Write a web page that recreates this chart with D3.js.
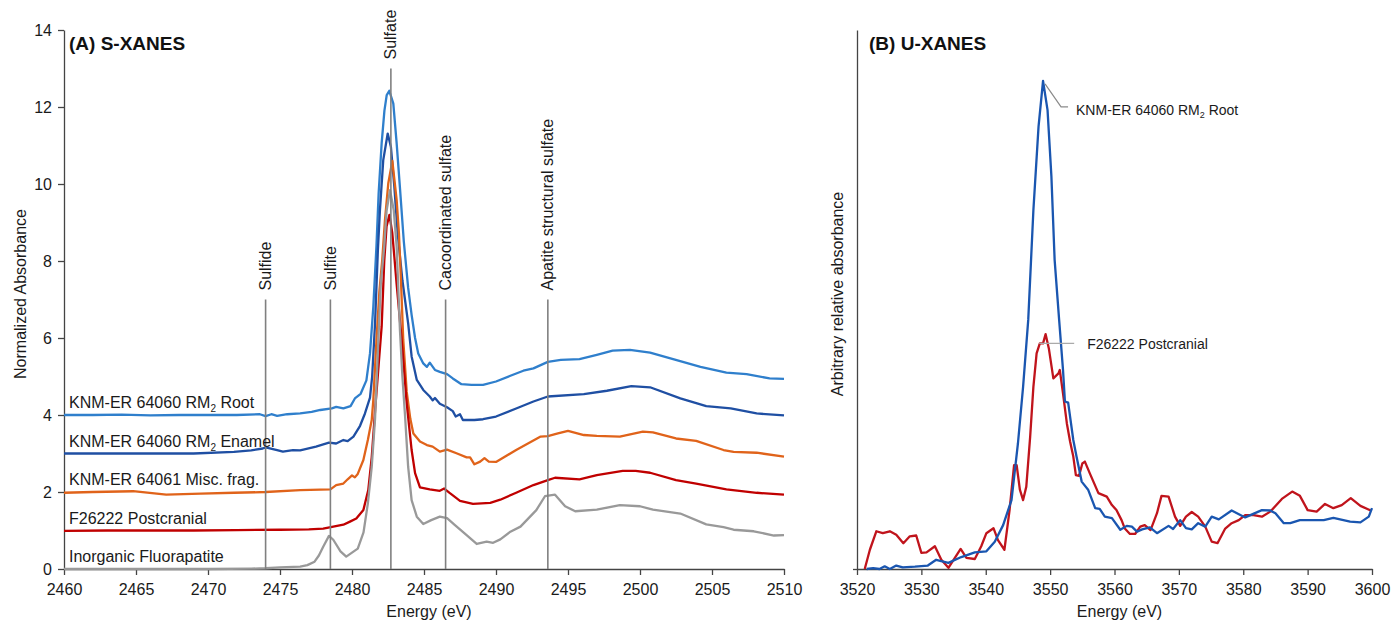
<!DOCTYPE html>
<html><head><meta charset="utf-8">
<script src="https://cdn.jsdelivr.net/npm/d3@7"></script>
<style>
html,body{margin:0;padding:0;background:#fff;}
svg{display:block;font-family:"Liberation Sans",Arial,sans-serif;}
</style></head>
<body><svg id="chart" width="1392" height="623"></svg>
<script>
// ---------- DATA: S-XANES (panel A) ----------
const sTicksX = [2460,2465,2470,2475,2480,2485,2490,2495,2500,2505,2510];
const sTicksY = [0,2,4,6,8,10,12,14];
const sSeriesNames = ["KNM-ER 64060 RM2 Root","KNM-ER 64060 RM2 Enamel","KNM-ER 64061 Misc. frag.","F26222 Postcranial","Inorganic Fluorapatite"];
const sSeriesBase = [4,3,2,1,0];
const rootS = [[2460,4.0],[2462,4.0],[2464,4.01],[2466,3.99],[2468,4.0],[2470,4.0],[2472,4.0],[2473.6,4.02],[2474.0,3.97],[2474.4,4.02],[2474.8,3.98],[2475.5,4.02],[2476.4,4.04],[2477.2,4.08],[2477.8,4.13],[2478.6,4.17],[2478.9,4.21],[2479.4,4.17],[2479.9,4.23],[2480.2,4.43],[2480.6,4.55],[2481.0,4.9],[2481.25,5.6],[2481.48,6.81],[2481.7,8.4],[2481.85,9.76],[2482.06,11.06],[2482.25,11.9],[2482.41,12.31],[2482.59,12.42],[2482.87,12.09],[2483.1,11.06],[2483.33,9.9],[2483.6,8.5],[2483.9,7.3],[2484.14,6.6],[2484.38,6.0],[2484.6,5.6],[2484.95,5.34],[2485.2,5.25],[2485.4,5.36],[2485.76,5.17],[2486.1,5.12],[2486.6,5.06],[2487.0,4.95],[2487.6,4.8],[2488.3,4.78],[2489.1,4.78],[2490.0,4.87],[2491.0,5.02],[2491.9,5.15],[2492.6,5.21],[2493.6,5.38],[2494.5,5.43],[2495.8,5.45],[2497.0,5.56],[2498.1,5.67],[2499.3,5.69],[2500.7,5.62],[2502.3,5.45],[2504.2,5.25],[2506.0,5.1],[2507.4,5.06],[2509.0,4.95],[2510,4.94]];
const enamelS = [[2460,3.0],[2463,3.0],[2466,3.0],[2469,3.0],[2471.8,3.04],[2473.0,3.08],[2473.8,3.13],[2474.0,3.16],[2474.8,3.09],[2475.2,3.05],[2475.9,3.09],[2476.4,3.08],[2477.5,3.18],[2478.4,3.28],[2478.9,3.26],[2479.4,3.35],[2479.7,3.32],[2480.1,3.44],[2480.56,3.72],[2480.9,4.04],[2481.25,4.45],[2481.4,5.0],[2481.6,6.38],[2481.8,8.3],[2481.94,9.32],[2482.17,10.62],[2482.48,11.31],[2482.7,10.97],[2482.94,9.93],[2483.17,8.72],[2483.5,7.5],[2483.9,6.38],[2484.14,5.52],[2484.5,4.91],[2484.95,4.65],[2485.4,4.48],[2485.6,4.38],[2485.76,4.44],[2486.1,4.29],[2486.6,4.2],[2487.0,4.1],[2487.2,3.96],[2487.5,4.02],[2487.7,3.87],[2488.5,3.87],[2489.1,3.89],[2490.0,3.96],[2491.4,4.17],[2492.6,4.35],[2493.6,4.48],[2496.1,4.54],[2497.7,4.63],[2499.4,4.75],[2500.7,4.72],[2502.8,4.43],[2504.6,4.23],[2506.3,4.17],[2508.1,4.04],[2510,3.99]];
const miscS = [[2460,1.98],[2462,2.0],[2464.8,2.02],[2467.1,1.93],[2469.5,1.96],[2471.8,1.98],[2474,2.0],[2476.4,2.05],[2478.5,2.07],[2478.9,2.18],[2479.4,2.22],[2479.7,2.33],[2480.0,2.43],[2480.2,2.38],[2480.4,2.47],[2480.79,2.83],[2481.1,3.35],[2481.37,3.87],[2481.48,4.39],[2481.7,5.95],[2481.9,7.2],[2482.1,8.03],[2482.29,9.07],[2482.52,10.02],[2482.8,10.6],[2483.1,9.59],[2483.26,8.72],[2483.4,7.5],[2483.56,5.95],[2483.8,4.6],[2484.05,3.9],[2484.26,3.52],[2484.72,3.31],[2485.2,3.22],[2485.6,3.18],[2486.1,3.05],[2486.6,3.1],[2487.3,3.0],[2487.96,2.9],[2488.2,2.9],[2488.5,2.72],[2488.9,2.79],[2489.2,2.88],[2489.5,2.79],[2490.0,2.78],[2491.4,3.09],[2493.1,3.44],[2493.6,3.45],[2494.3,3.52],[2495.0,3.59],[2496.1,3.48],[2497.0,3.46],[2498.6,3.44],[2500.2,3.57],[2500.9,3.55],[2502.5,3.39],[2503.9,3.33],[2505.8,3.09],[2506.5,3.04],[2508.1,3.02],[2510,2.92]];
const postS = [[2460,0.99],[2463,1.0],[2466,1.0],[2469,1.0],[2472,1.01],[2475,1.02],[2477,1.03],[2478.0,1.05],[2478.7,1.1],[2479.4,1.15],[2479.86,1.23],[2480.3,1.31],[2480.79,1.53],[2481.13,2.05],[2481.37,2.9],[2481.6,4.1],[2481.85,5.3],[2482.06,6.3],[2482.24,8.0],[2482.4,8.9],[2482.6,9.2],[2482.8,8.72],[2482.94,8.11],[2483.1,7.4],[2483.45,5.95],[2483.8,4.3],[2484.14,3.09],[2484.38,2.49],[2484.72,2.12],[2485.4,2.07],[2486.1,2.03],[2486.4,2.09],[2486.8,1.97],[2487.5,1.77],[2488.4,1.69],[2489.6,1.72],[2490.3,1.8],[2491.4,1.98],[2492.6,2.18],[2493.6,2.31],[2494.1,2.37],[2495.8,2.33],[2497.0,2.44],[2498.8,2.55],[2499.7,2.55],[2500.7,2.5],[2502.5,2.31],[2503.9,2.22],[2506.0,2.07],[2508.1,1.98],[2510,1.93]];
const fluorS = [[2460,0.0],[2465,0.0],[2470,0.0],[2473,0.01],[2474,0.02],[2475,0.04],[2476.4,0.06],[2476.9,0.1],[2477.4,0.19],[2477.7,0.35],[2478.0,0.58],[2478.4,0.86],[2478.7,0.76],[2479.2,0.46],[2479.6,0.32],[2480.1,0.45],[2480.4,0.53],[2480.8,0.95],[2481.1,1.7],[2481.37,2.65],[2481.6,3.9],[2481.83,5.95],[2482.0,7.4],[2482.24,8.38],[2482.4,9.3],[2482.64,9.84],[2482.9,9.32],[2483.1,8.38],[2483.33,6.2],[2483.5,5.0],[2483.68,4.0],[2483.9,2.65],[2484.14,1.79],[2484.5,1.36],[2484.95,1.17],[2485.5,1.27],[2486.1,1.36],[2486.6,1.32],[2487.15,1.14],[2487.96,0.88],[2488.66,0.65],[2489.35,0.71],[2489.8,0.68],[2490.3,0.77],[2491.0,0.97],[2491.7,1.1],[2492.8,1.53],[2493.4,1.89],[2494.1,1.93],[2494.8,1.63],[2495.5,1.5],[2497.0,1.54],[2498.6,1.66],[2500.0,1.63],[2500.9,1.54],[2502.8,1.44],[2504.6,1.16],[2505.8,1.09],[2506.5,1.02],[2507.9,0.98],[2509.3,0.87],[2510,0.88]];
const refEnergies = [2474, 2478.5, 2482.7, 2486.5, 2493.6];
const refTops = [7, 7, 13, 7, 7];
const refLabels = ["Sulfide","Sulfite","Sulfate","Cacoordinated sulfate","Apatite structural sulfate"];

// ---------- DATA: U-XANES (panel B) ----------
const uTicksX = [3520,3530,3540,3550,3560,3570,3580,3590,3600];
const uRoot = [[3521.5,0],[3522.5,0.02],[3523.5,0],[3524.3,0.07],[3525.1,0],[3526.1,0.09],[3527.1,0.04],[3529,0.06],[3531.0,0.09],[3532.3,0.24],[3534.2,0.16],[3536.2,0.31],[3538.3,0.43],[3540.1,0.46],[3541.4,0.71],[3542.7,1.14],[3544.0,1.79],[3545.0,3.26],[3545.8,4.73],[3546.6,6.47],[3547.4,9.32],[3548.2,11.49],[3548.9,12.68],[3549.6,11.92],[3550.2,10.19],[3550.7,8.03],[3551.4,6.47],[3552.0,5.17],[3552.3,4.35],[3552.8,4.32],[3553.6,3.35],[3554.1,2.92],[3554.9,2.27],[3555.9,2.06],[3557.0,1.58],[3557.7,1.56],[3558.5,1.36],[3559.6,1.32],[3560.9,1.02],[3561.9,1.12],[3562.7,1.10],[3563.5,0.97],[3564.3,1.03],[3565.5,1.08],[3566.6,0.93],[3568.4,1.12],[3569.1,1.04],[3570.2,1.27],[3571.1,1.06],[3572.0,1.03],[3573.0,1.19],[3574.1,1.1],[3575.1,1.36],[3576.2,1.29],[3578.2,1.52],[3580.3,1.34],[3582.9,1.53],[3584.2,1.52],[3585.0,1.45],[3586.3,1.19],[3587.3,1.19],[3588.8,1.27],[3592.5,1.27],[3594.0,1.33],[3596.6,1.23],[3598.2,1.21],[3599.5,1.36],[3600,1.58]];
const uPost = [[3521.2,0],[3522.0,0.5],[3523.0,0.98],[3524.0,0.93],[3525.1,0.98],[3526.1,0.89],[3527.2,0.67],[3528.2,0.85],[3529.2,0.87],[3530.0,0.42],[3530.8,0.43],[3532.1,0.59],[3533.1,0.24],[3534.2,0.03],[3535.2,0.29],[3536.1,0.52],[3537.0,0.29],[3538.3,0.26],[3539.3,0.59],[3540.1,0.93],[3541.2,1.06],[3541.9,0.75],[3542.9,0.5],[3543.7,1.53],[3544.4,2.70],[3544.8,2.70],[3545.3,2.06],[3545.8,1.79],[3546.3,2.14],[3546.9,3.44],[3547.4,4.73],[3547.9,5.6],[3548.4,5.86],[3548.9,5.86],[3549.3,6.1],[3549.8,5.73],[3550.5,4.95],[3551.3,5.08],[3551.5,5.17],[3552.0,4.56],[3552.6,3.78],[3553.1,3.31],[3553.6,2.92],[3554.0,2.44],[3554.5,2.42],[3555.0,2.74],[3555.4,2.79],[3556.2,2.47],[3557.5,1.97],[3558.8,1.88],[3559.6,1.66],[3560.3,1.53],[3561.1,1.27],[3561.6,1.05],[3562.4,0.91],[3563.2,0.91],[3564.0,1.1],[3564.7,1.14],[3565.6,1.01],[3566.6,1.45],[3567.3,1.9],[3568.4,1.88],[3569.4,1.36],[3570.2,1.12],[3571.1,1.36],[3572.0,1.48],[3573.0,1.36],[3574.1,1.10],[3575.1,0.71],[3576.0,0.67],[3577.2,1.05],[3578.2,1.19],[3579.3,1.27],[3580.3,1.4],[3581.6,1.4],[3582.9,1.36],[3584.2,1.49],[3586.0,1.82],[3587.6,2.01],[3588.8,1.9],[3590.0,1.53],[3591.4,1.49],[3592.7,1.69],[3594.0,1.58],[3595.3,1.66],[3596.7,1.84],[3598.2,1.64],[3599.8,1.52]];

// ---------- DRAW ----------
const svg = d3.select("#chart");
const FS = 16, TXT = "#1a1a1a", AX = "#444";
const sColors = ["#2f7fcc","#1f4fa3","#e0631a","#c00000","#999999"];
const sData = [rootS, enamelS, miscS, postS, fluorS];

const xL = d3.scaleLinear().domain([2460,2510]).range([64,784]);
const yL = d3.scaleLinear().domain([0,14]).range([569,30]);
const xR = d3.scaleLinear().domain([3520,3600]).range([857,1372]);
const yR = d3.scaleLinear().domain([0,14]).range([569,30]);

function styleAxis(g){
  g.selectAll("path.domain").attr("stroke",AX).attr("stroke-width",1.3);
  g.selectAll(".tick line").attr("stroke",AX).attr("stroke-width",1.3);
  g.selectAll("text").attr("font-size",FS).attr("fill",TXT).attr("font-family","Liberation Sans, Arial, sans-serif");
}

// Panel A axes
const gxL = svg.append("g").attr("transform","translate(0,569)")
  .call(d3.axisBottom(xL).tickValues(sTicksX).tickSize(6).tickSizeOuter(0).tickPadding(9).tickFormat(d3.format("d")));
styleAxis(gxL);
const gyL = svg.append("g").attr("transform","translate(64,0)")
  .call(d3.axisLeft(yL).tickValues(sTicksY).tickSize(6).tickSizeOuter(0).tickPadding(6));
styleAxis(gyL);

// Series lines panel A
const lineL = d3.line().x(d=>xL(d[0])).y(d=>yL(d[1]));
sData.forEach((s,i)=>{
  svg.append("path").datum(s).attr("d",lineL).attr("fill","none")
    .attr("stroke",sColors[i]).attr("stroke-width",2.3).attr("stroke-linejoin","round");
});

// Reference lines
refEnergies.forEach((e,i)=>{
  svg.append("line").attr("x1",xL(e)).attr("x2",xL(e)).attr("y1",yL(0)).attr("y2",yL(refTops[i]))
    .attr("stroke","#808080").attr("stroke-width",1.6);
  svg.append("text").attr("transform",`translate(${xL(e)},${yL(refTops[i])-9}) rotate(-90)`)
    .attr("dy","0.35em").attr("font-size",FS).attr("fill",TXT).text(refLabels[i]);
});

// Series labels panel A
function subLabel(sel, name){
  const m = name.match(/^(.*RM)2(.*)$/);
  if(m){
    sel.append("tspan").text(m[1]);
    sel.append("tspan").attr("font-size",10).attr("dy",4).text("2");
    sel.append("tspan").attr("dy",-4).text(m[2]);
  } else sel.text(name);
}
sSeriesNames.forEach((n,i)=>{
  const t = svg.append("text").attr("x",69).attr("y",yL(sSeriesBase[i])-7)
    .attr("font-size",FS).attr("fill",TXT);
  subLabel(t,n);
});

// Titles
svg.append("text").attr("x",69).attr("y",50).attr("font-size",19).attr("font-weight","bold").attr("fill","#111").text("(A) S-XANES");
svg.append("text").attr("x",869).attr("y",50).attr("font-size",19).attr("font-weight","bold").attr("fill","#111").text("(B) U-XANES");

// Axis titles
svg.append("text").attr("transform","translate(20,294) rotate(-90)").attr("dy","0.35em").attr("text-anchor","middle")
  .attr("font-size",FS).attr("fill",TXT).text("Normalized Absorbance");
svg.append("text").attr("transform","translate(837,294) rotate(-90)").attr("dy","0.35em").attr("text-anchor","middle")
  .attr("font-size",FS).attr("fill",TXT).text("Arbitrary relative absorbance");
svg.append("text").attr("x",(xL.range()[0]+xL.range()[1])/2+5).attr("y",617).attr("text-anchor","middle")
  .attr("font-size",FS).attr("fill",TXT).text("Energy (eV)");
svg.append("text").attr("x",(xR.range()[0]+xR.range()[1])/2+5).attr("y",617).attr("text-anchor","middle")
  .attr("font-size",FS).attr("fill",TXT).text("Energy (eV)");

// Panel B axes
const gxR = svg.append("g").attr("transform","translate(0,569)")
  .call(d3.axisBottom(xR).tickValues(uTicksX).tickSize(6).tickSizeOuter(0).tickPadding(9).tickFormat(d3.format("d")));
styleAxis(gxR);
const gyR = svg.append("g").attr("transform",`translate(${xR(3520)},0)`)
  .call(d3.axisLeft(yR).tickValues([0]).tickSize(4).tickSizeOuter(0).tickFormat(""));
styleAxis(gyR);

// Series lines panel B
const lineR = d3.line().x(d=>xR(d[0])).y(d=>yR(d[1]));
svg.append("path").datum(uPost).attr("d",lineR).attr("fill","none").attr("stroke","#c0141c").attr("stroke-width",2.3).attr("stroke-linejoin","round");
svg.append("path").datum(uRoot).attr("d",lineR).attr("fill","none").attr("stroke","#1a56b0").attr("stroke-width",2.3).attr("stroke-linejoin","round");

// Annotations panel B
const pk = uRoot.reduce((a,b)=>b[1]>a[1]?b:a);
const px = xR(pk[0]), py = yR(pk[1]);
svg.append("polyline").attr("points",`${px+2},${py+3} ${px+18},${py+26} ${px+25},${py+26}`)
  .attr("fill","none").attr("stroke","#8a8a8a").attr("stroke-width",1.2);
const t1 = svg.append("text").attr("x",px+33).attr("y",py+34).attr("font-size",14).attr("fill",TXT);
t1.append("tspan").text("KNM-ER 64060 RM");
t1.append("tspan").attr("font-size",9).attr("dy",3).text("2");
t1.append("tspan").attr("dy",-3).text(" Root");

const qx = xR(3548.3), qy = yR(5.86);
svg.append("line").attr("x1",qx).attr("x2",qx+35).attr("y1",qy).attr("y2",qy).attr("stroke","#aaaaaa").attr("stroke-width",1.4);
svg.append("text").attr("x",qx+48).attr("y",qy+6).attr("font-size",14).attr("fill",TXT).text("F26222 Postcranial");
</script></body></html>
